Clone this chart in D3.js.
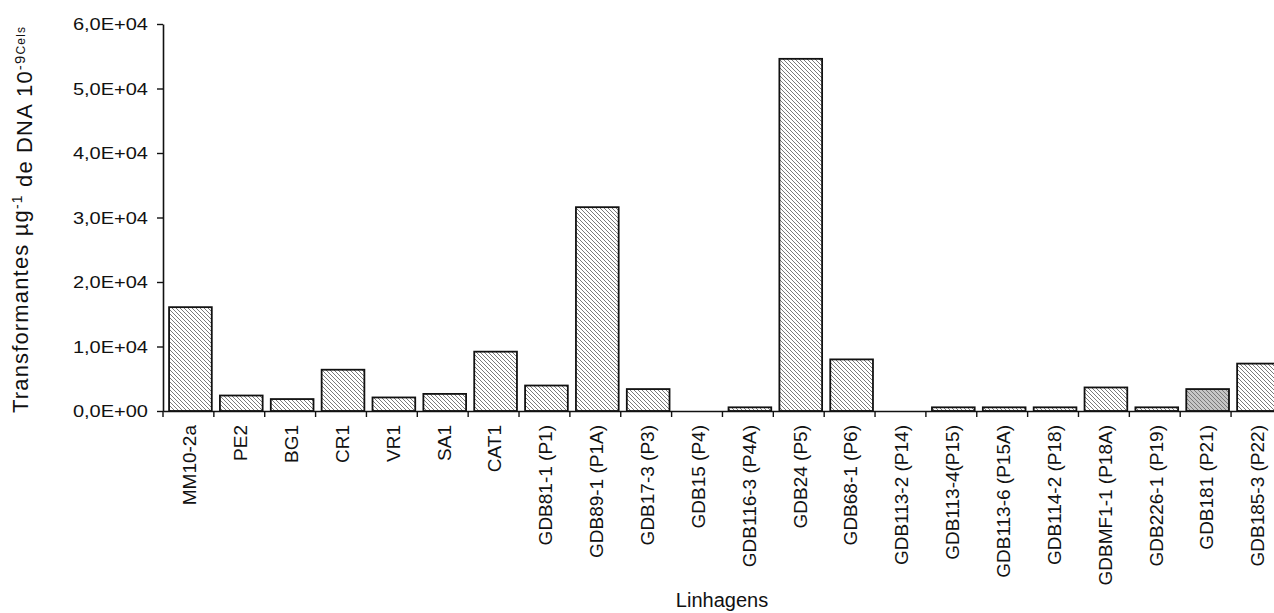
<!DOCTYPE html>
<html>
<head>
<meta charset="utf-8">
<script src="https://cdn.jsdelivr.net/npm/d3@7"></script>
<style>
  body { margin: 0; background: #fff; }
  svg { display: block; font-family: Arial, "Liberation Sans", sans-serif; }
</style>
</head>
<body>
<svg id="chart"></svg>
<script>
// lineages on the x axis
let categories = ["MM10-2a", "PE2", "BG1", "CR1", "VR1", "SA1", "CAT1",
  "GDB81-1 (P1)", "GDB89-1 (P1A)", "GDB17-3 (P3)", "GDB15 (P4)", "GDB116-3 (P4A)",
  "GDB24 (P5)", "GDB68-1 (P6)", "GDB113-2 (P14)", "GDB113-4(P15)", "GDB113-6 (P15A)",
  "GDB114-2 (P18)", "GDBMF1-1 (P18A)", "GDB226-1 (P19)", "GDB181 (P21)", "GDB185-3 (P22)"];

// transformants per ug DNA
let values = [16100, 2400, 1850, 6400, 2100, 2650, 9200,
  3950, 31600, 3400, 0, 570,
  54600, 8000, 0, 570, 570,
  570, 3650, 570, 3400, 7350];

// the one bar drawn with a darker fill
let darkBars = ["GDB181 (P21)"];

let yTicks = [0, 10000, 20000, 30000, 40000, 50000, 60000];
let yTickLabels = ["0,0E+00", "1,0E+04", "2,0E+04", "3,0E+04", "4,0E+04", "5,0E+04", "6,0E+04"];

function getConfig() {
  let width = 1274;
  let height = 613;
  let margin = { top: 24, left: 163, bottom: 202 };
  let step = 50.86;
  let container = d3.select("#chart")
    .attr("width", width)
    .attr("height", height);
  return { width, height, margin, step, container };
}

function getScales(config) {
  let { margin, height, step } = config;
  let x = d3.scaleBand()
    .domain(categories)
    .range([margin.left, margin.left + step * categories.length])
    .paddingInner(0.16)
    .paddingOuter(0.08);
  let y = d3.scaleLinear()
    .domain([0, 60000])
    .range([height - margin.bottom, margin.top]);
  return { x, y };
}

function makePatterns(config) {
  let defs = config.container.append("defs");
  let pats = [
    { id: "hatch", bg: "#ffffff", line: "#7a7a7a" },
    { id: "hatchDark", bg: "#c6c6c6", line: "#7a7a7a" }
  ];
  pats.forEach(p => {
    let pat = defs.append("pattern")
      .attr("id", p.id)
      .attr("patternUnits", "userSpaceOnUse")
      .attr("width", 4)
      .attr("height", 4);
    pat.append("rect").attr("width", 4).attr("height", 4).attr("fill", p.bg);
    pat.append("path")
      .attr("d", "M-1,-1L5,5M3,-1L5,1M-1,3L1,5")
      .attr("stroke", p.line)
      .attr("stroke-width", 1);
  });
}

function drawBars(config, scales) {
  let { x, y } = scales;
  config.container.append("g")
    .selectAll("rect")
    .data(categories)
    .join("rect")
    .filter((d, i) => values[i] > 0)
    .attr("x", d => x(d) + 2)
    .attr("width", x.bandwidth())
    .attr("y", d => y(values[categories.indexOf(d)]))
    .attr("height", d => y(0) - y(values[categories.indexOf(d)]))
    .attr("fill", d => darkBars.includes(d) ? "url(#hatchDark)" : "url(#hatch)")
    .attr("stroke", "#111")
    .attr("stroke-width", 1.8);
}

function drawAxes(config, scales) {
  let { x, y } = scales;
  let { container, margin } = config;

  // y axis
  let axisY = d3.axisLeft(y)
    .tickValues(yTicks)
    .tickFormat((d, i) => yTickLabels[i])
    .tickSize(6)
    .tickSizeOuter(0);
  let gY = container.append("g")
    .attr("transform", `translate(${margin.left},0)`)
    .call(axisY);
  gY.select(".domain").attr("stroke", "#111").attr("stroke-width", 1.6);
  gY.selectAll(".tick line").attr("stroke", "#111").attr("stroke-width", 1.4);
  gY.selectAll(".tick text")
    .attr("x", -12)
    .attr("dy", "0.36em")
    .attr("transform", "scale(1.25,1)")
    .attr("fill", "#111")
    .style("font-size", "16px");

  // x axis: labels at band centres, ticks at band borders
  let axisX = d3.axisBottom(x).tickSize(0).tickSizeOuter(0);
  let gX = container.append("g")
    .attr("transform", `translate(0,${y(0)})`)
    .call(axisX);
  gX.select(".domain").attr("stroke", "#111").attr("stroke-width", 1.6);
  gX.selectAll(".tick text")
    .attr("transform", "rotate(-90)")
    .attr("text-anchor", "end")
    .attr("x", -14)
    .attr("y", 1)
    .attr("dy", "0.36em")
    .attr("fill", "#111")
    .style("font-size", "19px");

  let half = x.step() * x.paddingInner() / 2;
  let borders = categories.map(c => x(c) - half);
  gX.append("g")
    .selectAll("line")
    .data(borders)
    .join("line")
    .attr("x1", d => d)
    .attr("x2", d => d)
    .attr("y1", 0)
    .attr("y2", 6)
    .attr("stroke", "#111")
    .attr("stroke-width", 1.4);

  // titles
  container.append("text")
    .attr("x", 722)
    .attr("y", 607)
    .attr("text-anchor", "middle")
    .attr("fill", "#111")
    .style("font-size", "20px")
    .text("Linhagens");

  let yt = container.append("text")
    .attr("transform", "translate(28,413) rotate(-90)")
    .attr("text-anchor", "start")
    .attr("fill", "#111")
    .attr("textLength", 386)
    .attr("lengthAdjust", "spacing")
    .style("font-size", "22px");
  yt.append("tspan").text("Transformantes µg");
  yt.append("tspan").attr("dy", "-0.45em").style("font-size", "14px").text("-1");
  yt.append("tspan").attr("dy", "0.45em").text(" de DNA 10");
  yt.append("tspan").attr("dy", "-0.45em").style("font-size", "15px").text("-9");
  yt.append("tspan").style("font-size", "12px").text("Cels");
}

let config = getConfig();
let scales = getScales(config);
makePatterns(config);
drawBars(config, scales);
drawAxes(config, scales);
</script>
</body>
</html>
